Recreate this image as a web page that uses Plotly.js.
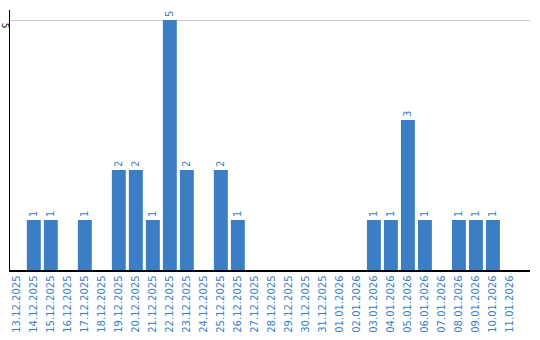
<!DOCTYPE html>
<html>
<head>
<meta charset="utf-8">
<script src="https://cdn.plot.ly/plotly-3.0.1.min.js"></script>
<style>html,body{margin:0;padding:0;background:#fff;}#chart{width:540px;height:340px;}</style>
</head>
<body>
<div id="chart"></div>
<script>
const dates = ["13.12.2025","14.12.2025","15.12.2025","16.12.2025","17.12.2025","18.12.2025","19.12.2025","20.12.2025","21.12.2025","22.12.2025","23.12.2025","24.12.2025","25.12.2025","26.12.2025","27.12.2025","28.12.2025","29.12.2025","30.12.2025","31.12.2025","01.01.2026","02.01.2026","03.01.2026","04.01.2026","05.01.2026","06.01.2026","07.01.2026","08.01.2026","09.01.2026","10.01.2026","11.01.2026"];
const counts = [0,1,1,0,1,0,2,2,1,5,2,0,2,1,0,0,0,0,0,0,0,1,1,3,1,0,1,1,1,0];
const yTicks = [5];

const blue = "#3b7ec4";
const labels = counts.map(v => v > 0 ? String(v) : "");

Plotly.newPlot("chart", [{
  type: "bar",
  x: dates,
  y: counts,
  text: labels,
  textposition: "outside",
  textangle: -90,
  textfont: {family: "DejaVu Sans", size: 10, color: blue},
  cliponaxis: false,
  marker: {color: blue},
  hoverinfo: "none"
}], {
  width: 540, height: 340,
  margin: {l: 10, r: 10, t: 10, b: 70},
  paper_bgcolor: "#fff", plot_bgcolor: "#fff",
  bargap: 0.18,
  showlegend: false,
  xaxis: {
    type: "category",
    range: [-0.4, 30.18],
    tickangle: -90,
    tickfont: {family: "DejaVu Sans", size: 10, color: blue},
    showline: true, linecolor: "#000", linewidth: 1.5,
    ticks: "", showgrid: false, zeroline: false,
    automargin: false
  },
  yaxis: {
    range: [0, 5.2],
    tickvals: yTicks,
    ticktext: yTicks.map(String),
    tickangle: 90,
    ticklabelstandoff: -4,
    ticklabelshift: 7,
    tickfont: {family: "DejaVu Sans", size: 9, color: "#000"},
    showline: true, linecolor: "#000", linewidth: 1.5,
    showgrid: true, gridcolor: "#cccccc", gridwidth: 1,
    zeroline: false, ticks: "",
    automargin: false
  }
}, {staticPlot: true, displayModeBar: false});
</script>
</body>
</html>
